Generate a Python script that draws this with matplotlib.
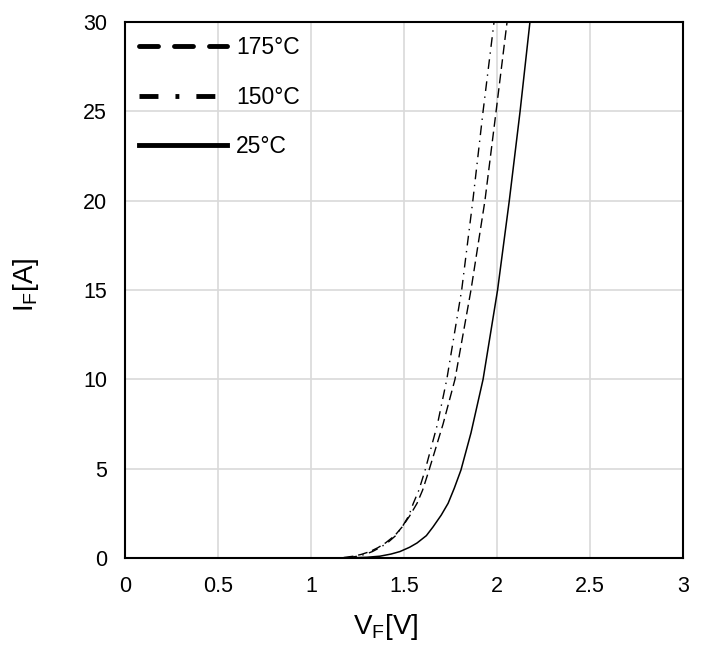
import matplotlib
matplotlib.use("Agg")
import matplotlib.pyplot as plt
from matplotlib.lines import Line2D

plt.rcParams['font.family'] = ['Liberation Sans', 'DejaVu Sans']
plt.rcParams['mathtext.fontset'] = 'custom'
plt.rcParams['mathtext.rm'] = 'Liberation Sans'

# forward characteristic
vf_25 = [0.0, 1.0, 1.21, 1.30, 1.37, 1.43, 1.478, 1.53, 1.57, 1.62, 1.656, 1.70, 1.737, 1.77, 1.806,
         1.86, 1.925, 2.003, 2.066, 2.124, 2.177]
if_25 = [0.0, 0.0, 0.01, 0.04, 0.10, 0.22, 0.36, 0.60, 0.84, 1.25, 1.74, 2.40, 3.06, 3.90, 4.92,
         7.0, 10.0, 15.0, 20.0, 25.0, 30.0]

vf_150 = [0.0, 1.15, 1.20, 1.25, 1.29, 1.33, 1.37, 1.41, 1.455, 1.49, 1.525, 1.55, 1.58, 1.613,
          1.68, 1.73, 1.81, 1.87, 1.925, 1.984]
if_150 = [0.0, 0.0, 0.02, 0.10, 0.20, 0.36, 0.58, 0.84, 1.25, 1.74, 2.35, 3.06, 3.80, 4.90,
          7.5, 10.0, 15.0, 20.0, 25.0, 30.0]

vf_175 = [0.0, 1.10, 1.17, 1.228, 1.27, 1.317, 1.36, 1.40, 1.45, 1.49, 1.53, 1.57, 1.60, 1.634,
          1.71, 1.774, 1.86, 1.935, 1.995, 2.054]
if_175 = [0.0, 0.0, 0.02, 0.10, 0.20, 0.36, 0.58, 0.84, 1.25, 1.74, 2.35, 3.06, 3.80, 4.90,
          7.5, 10.0, 15.0, 20.0, 25.0, 30.0]

x_ticks = [0, 0.5, 1, 1.5, 2, 2.5, 3]
x_labels = ['0', '0.5', '1', '1.5', '2', '2.5', '3']
y_ticks = [0, 5, 10, 15, 20, 25, 30]

fig = plt.figure(figsize=(7.04, 6.48), dpi=100)
ax = fig.add_axes([0.1776, 0.1389, 0.7926, 0.8272])

ax.plot(vf_175, if_175, color='black', lw=1.0, linestyle=(0, (7, 3.5)))
ax.plot(vf_150, if_150, color='black', lw=1.0, linestyle=(0, (7, 4, 1, 4)))
ax.plot(vf_25, if_25, color='black', lw=1.1)

ax.set_xlim(0, 3)
ax.set_ylim(0, 30)
ax.set_xticks(x_ticks)
ax.set_xticklabels(x_labels)
ax.set_yticks(y_ticks)
ax.tick_params(length=0, labelsize=15.5, pad=13)
ax.grid(True, color='#d9d9d9', lw=1.2)
ax.set_axisbelow(True)
for s in ax.spines.values():
    s.set_color('black')
    s.set_linewidth(1.5)

ax.set_xlabel(r'$\mathregular{V_F}$[V]', fontsize=20)
ax.set_ylabel(r'$\mathregular{I_F}$[A]', fontsize=20)
ax.xaxis.set_label_coords(0.468, -0.101)
ax.yaxis.set_label_coords(-0.151, 0.509)

handles = [
    Line2D([], [], color='black', lw=3.5, linestyle=(0, (3.9, 3.3)), dash_capstyle='round'),
    Line2D([], [], color='black', lw=3.5, linestyle=(0, (3.9, 3.5, 0.8, 3.5, 3.9, 10))),
    Line2D([], [], color='black', lw=3.5),
]
ax.legend(handles, ['175°C', '150°C', '25°C'], loc='upper left', frameon=False,
          fontsize=16.5, handlelength=3.85, handletextpad=0.4, labelspacing=1.17,
          borderaxespad=0.15, borderpad=0.45)

fig.savefig('out.png', dpi=100)
